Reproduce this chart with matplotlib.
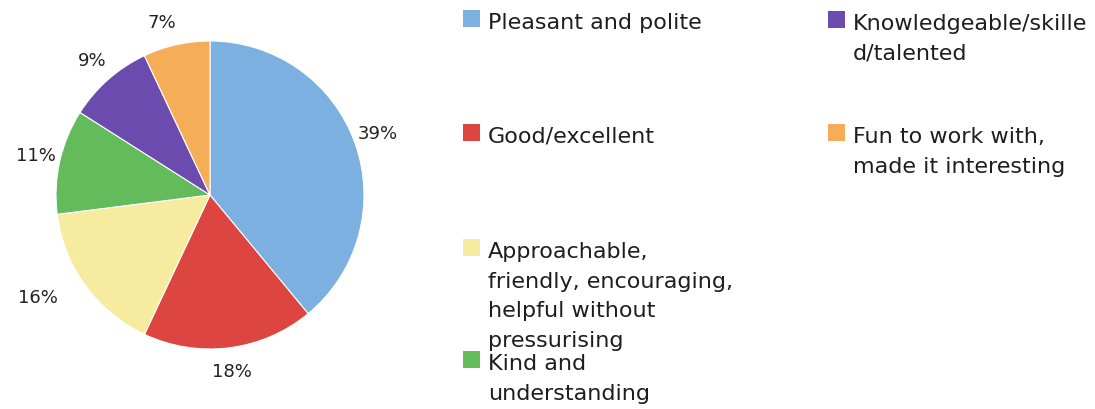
import numpy as np
import matplotlib
matplotlib.use("Agg")
import matplotlib.pyplot as plt
from matplotlib.patches import Rectangle

# survey answers, share of responses (%)
categories = [
    "Pleasant and polite",
    "Good/excellent",
    "Approachable,\nfriendly, encouraging,\nhelpful without\npressurising",
    "Kind and\nunderstanding",
    "Knowledgeable/skille\nd/talented",
    "Fun to work with,\nmade it interesting",
]
shares = [39, 18, 16, 11, 9, 7]
colors = ["#7BB0E0", "#DC4540", "#F7EBA0", "#63BB5B", "#6B4CAE", "#F5AD57"]

plt.rcParams["font.family"] = ["DejaVu Sans"]
W, H = 1095, 409
fig = plt.figure(figsize=(W / 100, H / 100), dpi=100)
ax = fig.add_axes([0, 0, 1, 1])

cx, cy, r = 210, H - 195, 154
wedges, _ = ax.pie(shares, colors=colors, startangle=90, counterclock=False,
                   center=(cx, cy), radius=r, frame=True,
                   wedgeprops=dict(edgecolor="white", linewidth=0.8))
ax.set_xlim(0, W)
ax.set_ylim(0, H)
ax.set_aspect("equal")
ax.axis("off")

# percentage labels outside the wedges
label_dist = [1.16, 1.16, 1.30, 1.16, 1.16, 1.16]
label_nudge = [0, 0, -5, 0, 0, 3]
for w, v, d, n in zip(wedges, shares, label_dist, label_nudge):
    ang = np.deg2rad((w.theta1 + w.theta2) / 2 + n)
    ax.text(cx + d * r * np.cos(ang), cy + d * r * np.sin(ang), f"{v}%",
            ha="center", va="center", fontsize=13, color="#222222")

# legend laid out in two columns of fixed slots
slot_x = [463, 463, 463, 463, 828, 828]
slot_top = [14, 128, 243, 355, 15, 128]
sq = 17
for lab, c, x, top in zip(categories, colors, slot_x, slot_top):
    ax.add_patch(Rectangle((x, H - top - 13), sq, sq, facecolor=c,
                           edgecolor="none"))
    ax.text(x + 25, H - top + 1, lab, ha="left", va="top", fontsize=16,
            linespacing=1.6, color="#1e1e1e")

fig.savefig("out.png", dpi=100)
